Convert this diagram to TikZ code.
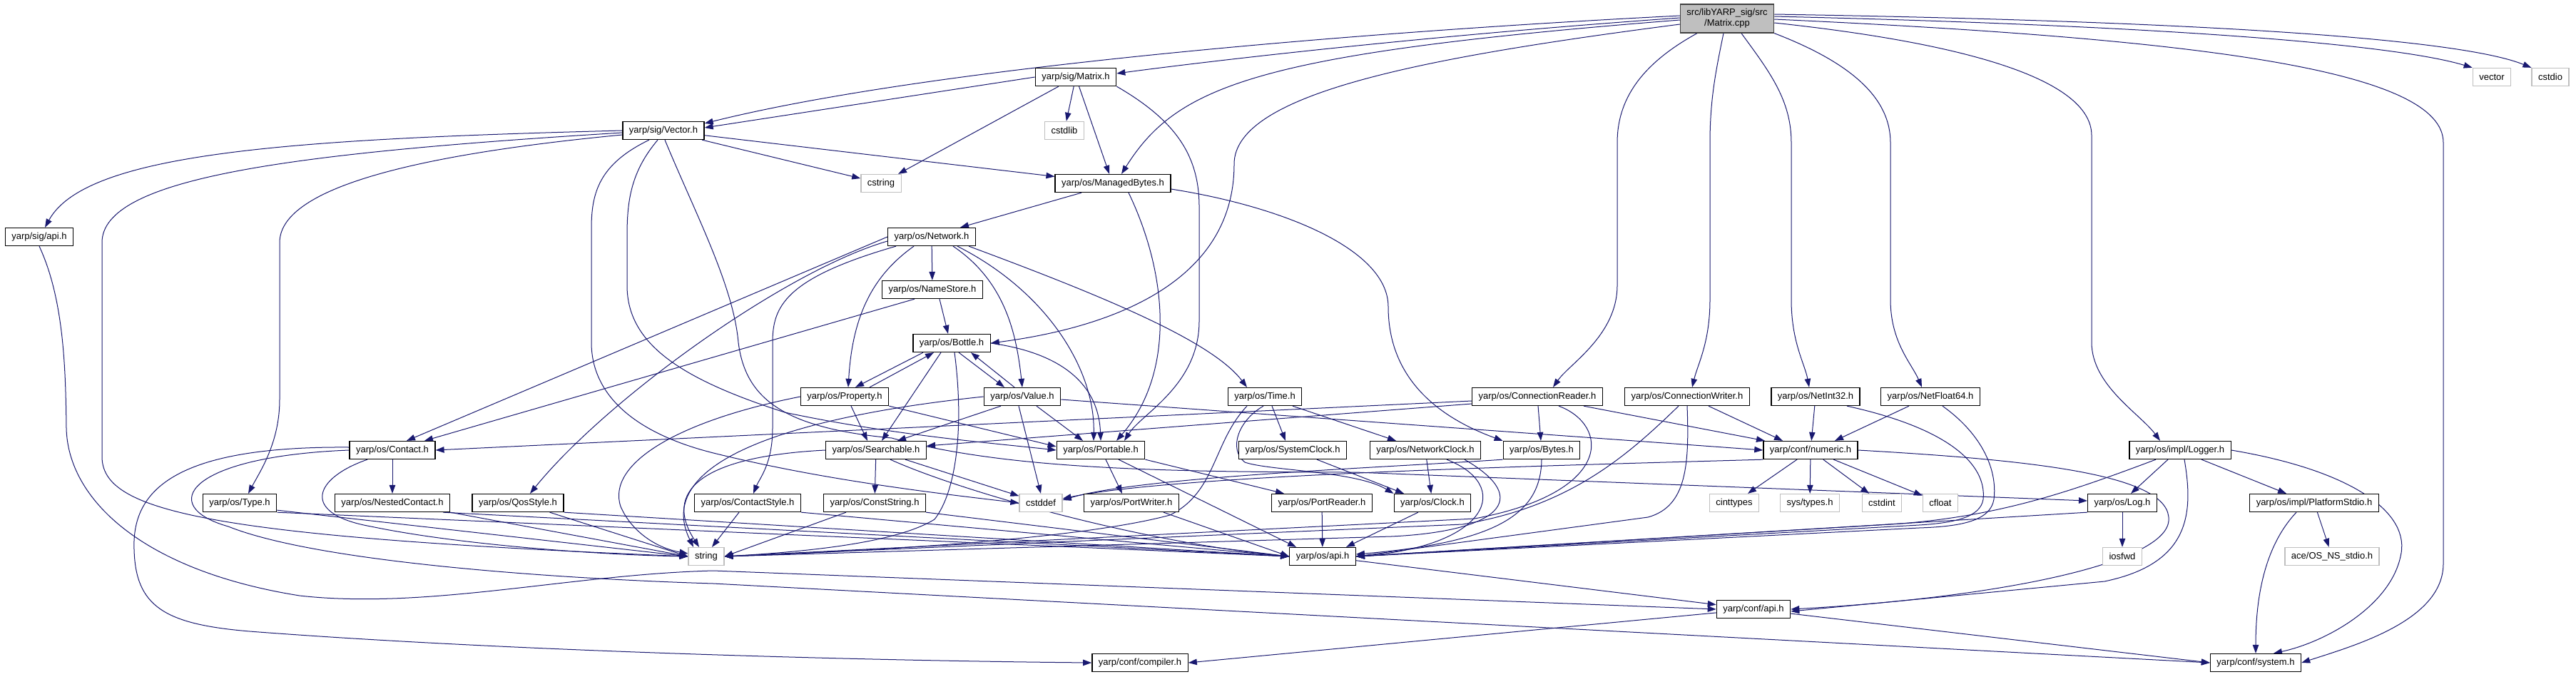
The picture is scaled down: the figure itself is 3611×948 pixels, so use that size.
\documentclass[tikz,border=0pt]{standalone}
\usepackage{fontspec}
\setmainfont{Liberation Sans}
\usetikzlibrary{arrows.meta, backgrounds}
\definecolor{edgeBlue}{HTML}{191970}
\definecolor{boxGray}{HTML}{BFBFBF}
\definecolor{rootLine}{HTML}{404040}
\tikzset{
  hdr/.style={draw=black, line width=1.3pt, fill=white, minimum height=25pt, inner xsep=9pt, inner ysep=0pt, font=\fontsize{13}{15}\selectfont},
  ext/.style={hdr, draw=boxGray},
  src/.style={hdr, fill=boxGray, draw=rootLine, minimum height=40pt, align=center},
  inc/.style={draw=edgeBlue, line width=1pt, -{Triangle[length=12pt,width=8.5pt]}}
}

\begin{document}
\begin{tikzpicture}[x=1pt, y=-1pt]
  \useasboundingbox (0,0) rectangle (3611,948);
  \node[src] (matrixCpp) at (2421,26) {src/libYARP\_sig/src\\/Matrix.cpp};
  \node[hdr] (matrixH) at (1508,108) {yarp/sig/Matrix.h};
  \node[ext] (vectorStd) at (3493,108) {vector};
  \node[ext] (cstdio) at (3575,108) {cstdio};
  \node[hdr] (vectorH) at (930,183) {yarp/sig/Vector.h};
  \node[ext] (cstdlib) at (1492,183) {cstdlib};
  \node[ext] (cstring) at (1235,257) {cstring};
  \node[hdr] (managedBytes) at (1560,257) {yarp/os/ManagedBytes.h};
  \node[hdr] (sigApi) at (55,332) {yarp/sig/api.h};
  \node[hdr] (network) at (1306,332) {yarp/os/Network.h};
  \node[hdr] (nameStore) at (1307,406) {yarp/os/NameStore.h};
  \node[hdr] (bottle) at (1334,481) {yarp/os/Bottle.h};
  \node[hdr] (property) at (1184,556) {yarp/os/Property.h};
  \node[hdr] (value) at (1433,556) {yarp/os/Value.h};
  \node[hdr] (time) at (1773,556) {yarp/os/Time.h};
  \node[hdr] (connReader) at (2155,556) {yarp/os/ConnectionReader.h};
  \node[hdr] (connWriter) at (2365,556) {yarp/os/ConnectionWriter.h};
  \node[hdr] (netInt) at (2545,556) {yarp/os/NetInt32.h};
  \node[hdr] (netFloat) at (2706,556) {yarp/os/NetFloat64.h};
  \node[hdr] (contact) at (550,631) {yarp/os/Contact.h};
  \node[hdr] (searchable) at (1228,631) {yarp/os/Searchable.h};
  \node[hdr] (portable) at (1543,631) {yarp/os/Portable.h};
  \node[hdr] (sysClock) at (1812,631) {yarp/os/SystemClock.h};
  \node[hdr] (netClock) at (1998,631) {yarp/os/NetworkClock.h};
  \node[hdr] (bytes) at (2161,631) {yarp/os/Bytes.h};
  \node[hdr] (numeric) at (2538,631) {yarp/conf/numeric.h};
  \node[hdr] (logger) at (3056,631) {yarp/os/impl/Logger.h};
  \node[hdr] (type) at (336,705) {yarp/os/Type.h};
  \node[hdr] (nested) at (550,705) {yarp/os/NestedContact.h};
  \node[hdr] (qos) at (726,705) {yarp/os/QosStyle.h};
  \node[hdr] (contactStyle) at (1048,705) {yarp/os/ContactStyle.h};
  \node[hdr] (constString) at (1226,705) {yarp/os/ConstString.h};
  \node[ext] (cstddef) at (1459,705) {cstddef};
  \node[hdr] (portWriter) at (1586,705) {yarp/os/PortWriter.h};
  \node[hdr] (portReader) at (1853,705) {yarp/os/PortReader.h};
  \node[hdr] (clock) at (2008,705) {yarp/os/Clock.h};
  \node[ext] (cinttypes) at (2431,705) {cinttypes};
  \node[ext] (sysTypes) at (2537,705) {sys/types.h};
  \node[ext] (cstdint) at (2638,705) {cstdint};
  \node[ext] (cfloat) at (2720,705) {cfloat};
  \node[hdr] (log) at (2975,705) {yarp/os/Log.h};
  \node[hdr] (platform) at (3244,705) {yarp/os/impl/PlatformStdio.h};
  \node[ext] (string) at (990,780) {string};
  \node[hdr] (osApi) at (1854,780) {yarp/os/api.h};
  \node[ext] (iosfwd) at (2975,780) {iosfwd};
  \node[ext] (aceStdio) at (3269,780) {ace/OS\_NS\_stdio.h};
  \node[hdr] (confApi) at (2458,854) {yarp/conf/api.h};
  \node[hdr] (compiler) at (1598,929) {yarp/conf/compiler.h};
  \node[hdr] (system) at (3162,929) {yarp/conf/system.h};

  \begin{scope}[on background layer]
  \fill[white] (0,0) rectangle (3611,948);
  % Matrix.cpp
  \draw[inc] ([yshift=4pt]matrixCpp.west) .. controls (1900,45) and (1300,95) .. ([yshift=10pt]vectorH.east);
  \draw[inc] ([yshift=1pt]matrixCpp.west) .. controls (2000,50) and (1700,85) .. ([yshift=5pt]matrixH.east);
  \draw[inc] ([yshift=-2pt]matrixCpp.west) .. controls (1760,75) and (1650,120) .. ([xshift=12pt]managedBytes.north);
  \draw[inc] ([yshift=-8pt]matrixCpp.west) .. controls (2000,80) and (1730,130) .. (1730,230) .. controls (1730,400) and (1550,460) .. (bottle.east);
  \draw[inc] ([xshift=-42pt]matrixCpp.south) .. controls (2300,90) and (2267,140) .. (2267,200) -- (2267,400) .. controls (2267,470) and (2200,510) .. ([xshift=22pt]connReader.north);
  \draw[inc] ([xshift=-5pt]matrixCpp.south) .. controls (2405,100) and (2397,140) .. (2397,200) -- (2397,420) .. controls (2397,480) and (2380,510) .. ([xshift=7pt]connWriter.north);
  \draw[inc] ([xshift=20pt]matrixCpp.south) .. controls (2480,100) and (2511,140) .. (2511,200) -- (2511,420) .. controls (2511,480) and (2530,510) .. ([xshift=-9pt]netInt.north);
  \draw[inc] (matrixCpp.south east) .. controls (2600,90) and (2650,140) .. (2650,200) -- (2650,420) .. controls (2650,480) and (2680,510) .. ([xshift=-12pt]netFloat.north);
  \draw[inc] ([yshift=-6pt]matrixCpp.east) .. controls (2750,60) and (2932,110) .. (2932,190) -- (2932,480) .. controls (2932,540) and (3000,580) .. ([xshift=-28pt]logger.north);
  \draw[inc] ([yshift=-1pt]matrixCpp.east) .. controls (3100,55) and (3425,100) .. (3425,200) -- (3425,790) .. controls (3425,870) and (3300,905) .. (system.east);
  \draw[inc] ([yshift=3pt]matrixCpp.east) .. controls (3000,35) and (3350,60) .. (vectorStd.north west);
  \draw[inc] ([yshift=6pt]matrixCpp.east) .. controls (3100,30) and (3450,55) .. (cstdio.north west);
  % Matrix.h
  \draw[inc] (matrixH.west) -- ([yshift=4pt]vectorH.east);
  \draw[inc] (matrixH) -- (cstring);
  \draw[inc] (matrixH) -- (cstdlib);
  \draw[inc] (matrixH) -- ([xshift=-5pt]managedBytes.north);
  \draw[inc] (matrixH.south east) .. controls (1650,170) and (1681,220) .. (1681,290) -- (1681,450) .. controls (1681,540) and (1600,580) .. ([xshift=33pt]portable.north);
  % Vector.h
  \draw[inc] (vectorH.west) .. controls (400,195) and (120,215) .. ([xshift=8pt]sigApi.north);
  \draw[inc] ([yshift=-3pt]vectorH.west) .. controls (400,215) and (143,250) .. (143,340) -- (143,640) .. controls (143,715) and (280,752) .. (string.west);
  \draw[inc] ([yshift=-6pt]vectorH.west) .. controls (600,215) and (392,260) .. (392,340) -- (392,560) .. controls (392,620) and (365,660) .. ([xshift=12pt]type.north);
  \draw[inc] ([xshift=-20pt]vectorH.south) .. controls (840,230) and (829,270) .. (829,320) -- (829,480) .. controls (829,560) and (900,610) .. (1000,635) .. controls (1150,672) and (1300,690) .. (cstddef.west);
  \draw[inc] ([xshift=-8pt]vectorH.south) .. controls (885,240) and (879,280) .. (879,330) -- (879,400) .. controls (879,480) and (950,530) .. (1100,578) .. controls (1250,610) and (1400,622) .. (portable.west);
  \draw[inc] ([xshift=2pt]vectorH.south) .. controls (975,300) and (1028,400) .. (1035,480) .. controls (1045,560) and (1100,600) .. (1250,614) .. controls (1400,655) and (1600,662) .. (1900,662) -- ([yshift=3pt]log.west);
  \draw[inc] (vectorH) -- (cstring);
  \draw[inc] (vectorH) -- (managedBytes);
  \draw[inc] (sigApi.south) .. controls (90,420) and (92,520) .. (93,600) .. controls (95,700) and (200,800) .. (420,835) .. controls (600,855) and (800,805) .. (1000,800) -- (confApi.west);
  % ManagedBytes.h and Network.h
  \draw[inc] ([xshift=-44pt]managedBytes.south) -- ([xshift=40pt]network.north);
  \draw[inc] ([xshift=22pt]managedBytes.south) .. controls (1635,380) and (1650,520) .. ([xshift=22pt]portable.north);
  \draw[inc] ([yshift=-8pt]managedBytes.east) .. controls (1800,290) and (1946,350) .. (1946,430) .. controls (1946,540) and (2030,590) .. (bytes.north west);
  \draw[inc] (network.west) -- ([xshift=20pt]contact.north);
  \draw[inc] ([yshift=-6pt]network.west) .. controls (1100,380) and (850,560) .. ([xshift=17pt]qos.north);
  \draw[inc] ([xshift=-50pt]network.south) .. controls (1100,390) and (1083,430) .. (1083,480) -- (1083,600) .. controls (1083,650) and (1065,670) .. ([xshift=8pt]contactStyle.north);
  \draw[inc] ([xshift=-25pt]network.south) .. controls (1225,385) and (1195,440) .. ([xshift=5pt]property.north);
  \draw[inc] (network) -- (nameStore);
  \draw[inc] ([xshift=30pt]network.south) .. controls (1410,395) and (1425,470) .. (value.north);
  \draw[inc] ([xshift=36pt]network.south) .. controls (1470,410) and (1535,520) .. ([xshift=-10pt]portable.north);
  \draw[inc] ([xshift=-10pt]network.south east) .. controls (1560,420) and (1700,480) .. ([xshift=-25pt]time.north);
  \draw[inc] ([xshift=10pt]nameStore.south) -- ([xshift=-5pt]bottle.north);
  \draw[inc] ([xshift=-25pt]nameStore.south) -- ([xshift=45pt]contact.north);
  % Bottle.h, Property.h, Value.h
  \draw[inc] ([xshift=-40pt]bottle.south) -- ([xshift=15pt]property.north);
  \draw[inc] ([xshift=35pt]property.north) -- ([xshift=-25pt]bottle.south);
  \draw[inc] ([xshift=10pt]bottle.south) -- ([xshift=-25pt]value.north);
  \draw[inc] ([xshift=-11pt]value.north) -- ([xshift=27pt]bottle.south);
  \draw[inc] ([xshift=-15pt]bottle.south) -- ([xshift=8pt]searchable.north);
  \draw[inc] (bottle.east) .. controls (1490,495) and (1540,540) .. (portable.north);
  \draw[inc] ([xshift=4pt]bottle.south) .. controls (1352,600) and (1340,690) .. (1310,728) .. controls (1250,765) and (1100,775) .. (string.east);
  \draw[inc] ([xshift=9pt]property.south) -- ([xshift=-12pt]searchable.north);
  \draw[inc] (property.south east) -- ([yshift=5pt]portable.west);
  \draw[inc] (property.west) .. controls (950,590) and (850,650) .. (870,710) .. controls (885,745) and (920,768) .. ([yshift=4pt]string.west);
  \draw[inc] ([xshift=-30pt]value.south) -- ([xshift=30pt]searchable.north);
  \draw[inc] ([xshift=20pt]value.south) -- ([xshift=-25pt]portable.north);
  \draw[inc] ([xshift=-5pt]value.south) -- (cstddef.north);
  \draw[inc] ([yshift=-4pt]value.east) -- (numeric.west);
  \draw[inc] (value.west) .. controls (1100,585) and (915,650) .. ([xshift=-18pt]string.north);
  % Contact.h and its neighbours
  \draw[inc] (contact) -- (nested);
  \draw[inc] ([xshift=-35pt]contact.south) .. controls (440,670) and (420,720) .. (520,738) .. controls (650,765) and (850,778) .. (string.west);
  \draw[inc] (contact.west) .. controls (260,640) and (220,710) .. (320,738) .. controls (450,790) and (800,812) .. (1000,818) -- (system.west);
  \draw[inc] ([yshift=4pt]contact.west) .. controls (240,625) and (185,690) .. (188,770) .. controls (190,850) and (230,875) .. (350,885) .. controls (700,912) and (1200,926) .. (compiler.west);
  \draw[inc] ([yshift=3pt]type.south east) -- (string.west);
  \draw[inc] (type.south east) -- (osApi.west);
  \draw[inc] (nested.south east) -- (string.west);
  \draw[inc] ([xshift=-10pt]nested.south east) -- (osApi.west);
  \draw[inc] ([xshift=-20pt]qos.south east) -- (string.west);
  \draw[inc] (qos.south east) -- (osApi.west);
  \draw[inc] ([xshift=-12pt]contactStyle.south) -- ([xshift=8pt]string.north);
  \draw[inc] (contactStyle.south east) -- (osApi.west);
  \draw[inc] ([xshift=-40pt]constString.south) -- (string.east);
  \draw[inc] (constString.south east) -- (osApi.west);
  % Searchable.h and Portable.h
  \draw[inc] (searchable) -- (constString);
  \draw[inc] (searchable) -- (cstddef);
  \draw[inc] (searchable.west) .. controls (980,640) and (930,690) .. ([xshift=-10pt]string.north);
  \draw[inc] ([xshift=20pt]searchable.south) .. controls (1350,690) and (1600,760) .. (osApi.west);
  \draw[inc] ([xshift=7pt]portable.south) -- ([xshift=-13pt]portWriter.north);
  \draw[inc] (portable.south east) -- ([xshift=-53pt]portReader.north);
  \draw[inc] ([xshift=25pt]portable.south) -- ([xshift=-37pt]osApi.north);
  \draw[inc] ([xshift=45pt]portWriter.south) -- (osApi.west);
  \draw[inc] (portReader) -- (osApi);
  % Time.h and the clocks
  \draw[inc] ([xshift=10pt]time.south) -- ([xshift=-10pt]sysClock.north);
  \draw[inc] ([xshift=39pt]time.south) -- ([xshift=-41pt]netClock.north);
  \draw[inc] ([xshift=-2pt]time.south) .. controls (1735,590) and (1722,630) .. (1745,648) .. controls (1780,660) and (1900,660) .. (clock.north west);
  \draw[inc] ([xshift=-25pt]time.south) .. controls (1700,620) and (1705,690) .. (1640,722) .. controls (1500,760) and (1150,775) .. (string.east);
  \draw[inc] ([xshift=34pt]sysClock.south) -- ([xshift=-40pt]clock.north);
  \draw[inc] (netClock) -- (clock);
  \draw[inc] ([xshift=30pt]netClock.south) .. controls (2120,680) and (2090,765) .. (osApi.east);
  \draw[inc] ([xshift=55pt]netClock.south) .. controls (2150,700) and (2100,745) .. (1950,752) -- (string.east);
  \draw[inc] ([xshift=-20pt]clock.south) -- ([xshift=33pt]osApi.north);
  % Bytes.h and the connection headers
  \draw[inc] (bytes.south) .. controls (2160,720) and (2100,760) .. ([yshift=3pt]osApi.east);
  \draw[inc] (bytes.south west) .. controls (1950,655) and (1600,668) .. ([yshift=4pt]cstddef.east);
  \draw[inc] ([yshift=-6pt]connReader.west) -- (contact.east);
  \draw[inc] ([yshift=-10pt]connReader.west) -- ([yshift=6pt]searchable.east);
  \draw[inc] (connReader) -- (bytes);
  \draw[inc] ([xshift=65pt]connReader.south) -- ([xshift=-64pt]numeric.north);
  \draw[inc] ([xshift=30pt]connReader.south) .. controls (2255,595) and (2265,690) .. (2067,727) -- (string.east);
  \draw[inc] ([xshift=30pt]connWriter.south) -- ([xshift=-39pt]numeric.north);
  \draw[inc] (connWriter.south) .. controls (2368,650) and (2365,710) .. (2310,725) -- (osApi.east);
  \draw[inc] ([xshift=-12pt]connWriter.south) .. controls (2280,640) and (2200,710) .. (2050,735) -- (string.east);
  \draw[inc] (netInt) -- (numeric);
  \draw[inc] ([xshift=44pt]netInt.south) .. controls (2730,600) and (2785,650) .. (2780,700) .. controls (2776,725) and (2740,733) .. (2690,736) -- (osApi.east);
  \draw[inc] ([xshift=-30pt]netFloat.south) -- ([xshift=34pt]numeric.north);
  \draw[inc] ([xshift=17pt]netFloat.south) .. controls (2780,610) and (2800,660) .. (2795,700) .. controls (2790,730) and (2750,738) .. (2690,740) -- (osApi.east);
  % numeric.h
  \draw[inc] (numeric) -- (cinttypes);
  \draw[inc] (numeric) -- (sysTypes);
  \draw[inc] (numeric) -- (cstdint);
  \draw[inc] (numeric) -- (cfloat);
  \draw[inc] (numeric.south west) .. controls (2200,652) and (1650,665) .. ([yshift=6pt]cstddef.east);
  \draw[inc] (numeric.east) .. controls (2850,645) and (3045,665) .. (3040,730) .. controls (3035,790) and (2800,838) .. (confApi.east);
  % Log.h and Logger.h
  \draw[inc] (log) -- (iosfwd);
  \draw[inc] (log.south west) -- (osApi.east);
  \draw[inc] ([xshift=-17pt]logger.south) -- ([xshift=12pt]log.north);
  \draw[inc] ([xshift=30pt]logger.south) -- ([xshift=-39pt]platform.north);
  \draw[inc] (logger.east) .. controls (3300,660) and (3380,720) .. (3365,780) .. controls (3350,850) and (3260,900) .. ([xshift=25pt]system.north);
  \draw[inc] ([xshift=-34pt]logger.south) .. controls (2900,690) and (2800,725) .. (2650,735) -- (osApi.east);
  \draw[inc] ([xshift=6pt]logger.south) .. controls (3075,720) and (3070,790) .. (2950,815) -- ([yshift=-3pt]confApi.east);
  \draw[inc] (platform) -- (aceStdio);
  \draw[inc] ([xshift=-25pt]platform.south) .. controls (3170,770) and (3162,850) .. (system.north);
  % api headers
  \draw[inc] (osApi) -- (confApi);
  \draw[inc] (confApi) -- (compiler.east);
  \draw[inc] (confApi) -- (system.west);
  \end{scope}
\end{tikzpicture}
\end{document}
